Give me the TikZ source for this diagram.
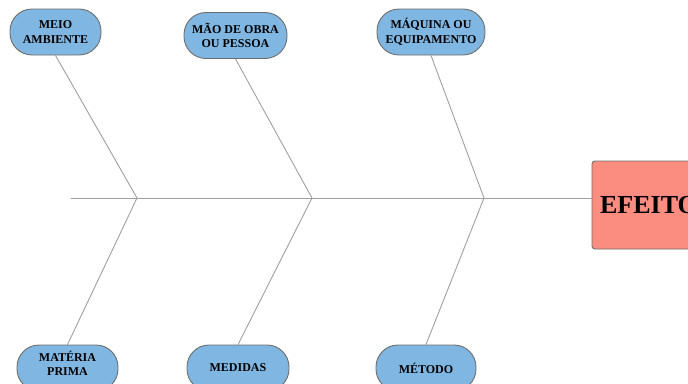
\documentclass[tikz,border=0pt]{standalone}
\usepackage{fontspec}
\setmainfont{Liberation Serif}
\definecolor{azulcausa}{RGB}{128,182,226}
\definecolor{salmao}{RGB}{250,140,128}
\definecolor{bordacinza}{RGB}{110,110,110}
\definecolor{linhacinza}{RGB}{160,160,160}
\begin{document}
\begin{tikzpicture}[x=1pt,y=-1pt,line join=round,line cap=round,
	causa/.style={draw=bordacinza,fill=azulcausa,rounded corners=22,minimum height=46,inner sep=2,line width=0.9,align=center,font=\fontsize{12}{14.5}\selectfont\bfseries},
	espinha/.style={draw=linhacinza,line width=0.9}]
	\clip (0,0) rectangle (688,383);
	% causas de cima
	\node[causa,minimum width=91] (meio) at (55.5,32) {MEIO\\AMBIENTE};
	\node[causa,minimum width=103] (mao) at (235.5,35.5) {MÃO DE OBRA\\OU PESSOA};
	\node[causa,minimum width=108] (maquina) at (431,32) {MÁQUINA OU\\EQUIPAMENTO};
	% causas de baixo
	\node[causa,minimum width=101,text depth=9] (materia) at (67.5,368) {MATÉRIA\\PRIMA};
	\node[causa,minimum width=102] (medidas) at (238,368) {MEDIDAS};
	\node[causa,minimum width=100] (metodo) at (426,368) {MÉTODO};
	% efeito
	\node[draw=bordacinza,fill=salmao,rounded corners=3,line width=0.9,minimum width=114,minimum height=88,font=\fontsize{26}{26}\selectfont\bfseries] (efeito) at (649,205) {EFEITO};
	\coordinate (ini) at (71,198);
	\coordinate (j1) at (137,198);
	\coordinate (j2) at (312,198);
	\coordinate (j3) at (484,198);
	\draw[espinha] (ini) -- (ini -| efeito.west);
	\foreach \a/\j/\b in {meio/j1/materia,mao/j2/medidas,maquina/j3/metodo}
		\draw[espinha] (\a.south) -- (\j) -- (\b.north);
\end{tikzpicture}
\end{document}
